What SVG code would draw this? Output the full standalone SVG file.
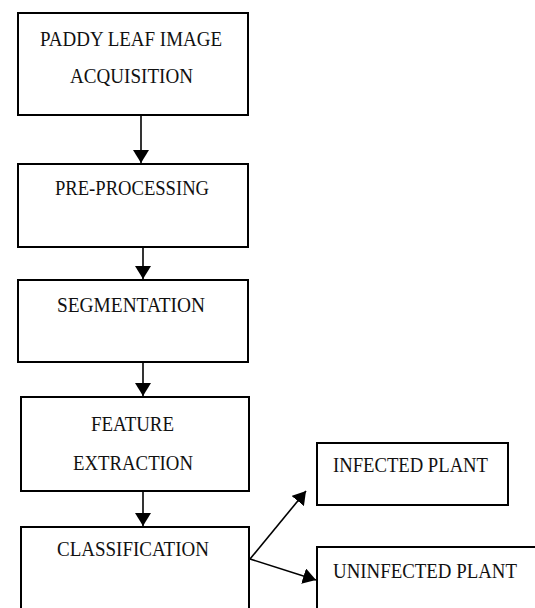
<svg xmlns="http://www.w3.org/2000/svg" width="535" height="608" viewBox="0 0 535 608">
<defs>
<style>
.box{fill:#fff;stroke:#000;stroke-width:2}
.lbl{font-family:"Liberation Serif","Times New Roman",serif;font-size:22px;fill:#111}
.edge{stroke:#000;stroke-width:1.6;fill:none}
</style>
<marker id="ah" viewBox="0 0 13 16" refX="13" refY="8" markerWidth="13" markerHeight="16" markerUnits="userSpaceOnUse" orient="auto">
<path d="M0,0 L13,8 L0,16 Z" fill="#000"/>
</marker>
</defs>
<rect width="535" height="608" fill="#fff"/>
<g id="n1">
<rect class="box" x="18" y="13" width="230" height="102"/>
<text class="lbl" x="40" y="46" textLength="182" lengthAdjust="spacingAndGlyphs">PADDY LEAF IMAGE</text>
<text class="lbl" x="70" y="83" textLength="123" lengthAdjust="spacingAndGlyphs">ACQUISITION</text>
</g>
<g id="n2">
<rect class="box" x="18" y="164" width="230" height="83"/>
<text class="lbl" x="55" y="195" textLength="154" lengthAdjust="spacingAndGlyphs">PRE-PROCESSING</text>
</g>
<g id="n3">
<rect class="box" x="18" y="280" width="230" height="82"/>
<text class="lbl" x="57" y="312" textLength="148" lengthAdjust="spacingAndGlyphs">SEGMENTATION</text>
</g>
<g id="n4">
<rect class="box" x="21" y="397" width="228" height="94"/>
<text class="lbl" x="91" y="431" textLength="83" lengthAdjust="spacingAndGlyphs">FEATURE</text>
<text class="lbl" x="73" y="470" textLength="120" lengthAdjust="spacingAndGlyphs">EXTRACTION</text>
</g>
<g id="n5">
<rect class="box" x="21" y="527" width="228" height="100"/>
<text class="lbl" x="57" y="556" textLength="152" lengthAdjust="spacingAndGlyphs">CLASSIFICATION</text>
</g>
<g id="n6">
<rect class="box" x="317" y="443" width="191" height="62"/>
<text class="lbl" x="333" y="472" textLength="155" lengthAdjust="spacingAndGlyphs">INFECTED PLANT</text>
</g>
<g id="n7">
<rect class="box" x="317" y="547" width="240" height="80"/>
<text class="lbl" x="333" y="578" textLength="184" lengthAdjust="spacingAndGlyphs">UNINFECTED PLANT</text>
</g>
<g id="edges">
<line class="edge" x1="141" y1="116" x2="141" y2="163" marker-end="url(#ah)"/>
<line class="edge" x1="143" y1="248" x2="143" y2="279" marker-end="url(#ah)"/>
<line class="edge" x1="143" y1="363" x2="143" y2="396" marker-end="url(#ah)"/>
<line class="edge" x1="143" y1="492" x2="143" y2="526" marker-end="url(#ah)"/>
<line class="edge" x1="250" y1="559" x2="306" y2="491" marker-end="url(#ah)"/>
<line class="edge" x1="250" y1="559" x2="316" y2="580" marker-end="url(#ah)"/>
</g>
</svg>
